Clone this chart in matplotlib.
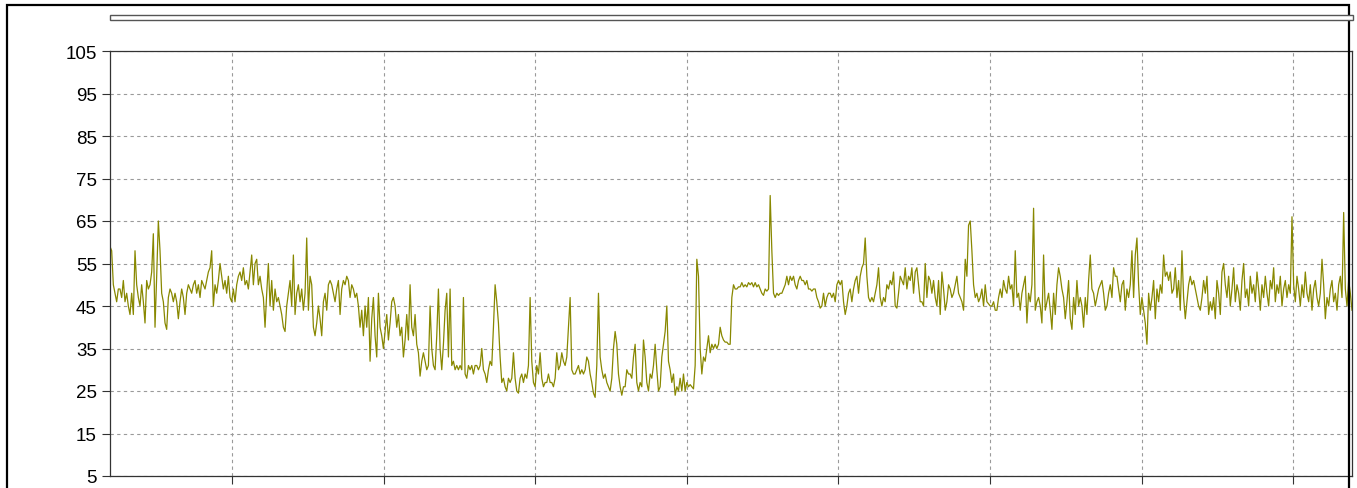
import matplotlib
matplotlib.use("Agg")
import matplotlib.pyplot as plt
from matplotlib.patches import Rectangle
import numpy as np

# ---- data (left to right) ----
seg_01 = [59, 58, 50, 48, 46, 49, 49, 47, 51, 46, 48, 45, 43, 48, 43, 58, 50, 47, 45, 50,
          46, 41, 51, 49, 50, 53, 62, 40, 52, 65, 58, 48, 46, 41, 39.5, 47, 49, 48, 46, 48,
          46, 42, 46, 49, 47, 43, 48, 50, 49, 48, 50, 51, 48, 50, 47, 51, 50, 49, 51, 53,
          54, 58, 45, 50, 48, 51, 55]
seg_02 = [52, 49, 51, 48, 52, 47, 46, 49, 46, 50, 52, 53, 51, 54, 50, 51, 49, 53, 57, 50,
          55, 56, 50, 52, 49, 47, 40, 48, 55, 45, 51, 44, 49, 46, 47, 45, 43, 40, 39, 45,
          48, 51, 45, 57, 43, 48, 50, 46, 49, 44, 48, 61, 44, 52, 50, 40, 38, 41, 45, 42,
          38, 46, 48, 44, 50, 51]
seg_03 = [50, 48, 46, 49, 51, 43, 49, 51, 50, 52, 51, 47, 50, 49, 47, 48, 45, 40, 44, 38,
          45, 40, 47, 32, 42, 47, 38, 33, 48, 40, 38, 35, 39, 43, 37, 41, 46, 47, 45, 40,
          43, 38, 40, 33, 37, 43, 37, 50, 40, 38, 43, 36, 34, 28.5, 32, 34, 32, 30, 31, 45,
          35, 31, 30, 38, 49, 35]
seg_04 = [30, 36, 44, 48, 33, 49, 31, 32, 30, 31, 30, 31, 30, 47, 29, 28, 31, 30, 31, 29,
          31, 31, 30, 31, 35, 30, 29, 27, 30, 32, 31, 40, 50, 46, 41, 33, 27, 28, 26, 25,
          28, 27, 28, 34, 28, 25, 24.5, 28, 29, 27, 29, 28, 31, 47, 32, 27, 26, 31, 29, 34,
          28, 26, 27, 27, 29, 27]
seg_05 = [27, 26, 28, 34, 30, 31, 34, 32, 31, 33, 40, 47, 30, 29, 29, 30, 31, 29, 30, 29,
          30, 33, 32, 29, 27, 24.5, 23.5, 31, 48, 33, 30, 28, 29, 27, 26, 25, 28, 35, 39, 36,
          29, 26, 24, 26, 26, 30, 29, 29, 28, 33, 36, 27, 25, 27, 26, 37, 33, 27, 25, 29,
          28, 31, 36, 30, 25, 26]
seg_06 = [33, 36, 39, 45, 32, 30, 27, 29, 24, 26, 25, 28, 25, 29, 25, 27, 26, 26.5, 26, 25.5,
          31, 56, 52, 35, 29, 33, 32, 35, 38, 34, 36, 35, 36, 35, 36, 40, 38, 37, 36.5, 36.5,
          36, 36, 47, 50, 49, 49, 49.5, 49.5, 50.5, 49.5, 50, 49.5, 50.5, 50, 50.5, 49.5, 50.5, 49.5, 50, 49,
          48, 47.5, 49, 48.5, 49, 71]
seg_07 = [58, 48, 47, 48, 47.5, 48, 48, 49, 50, 52, 50, 52, 51, 52, 50, 49, 51, 52, 51, 51,
          50, 51, 49, 49, 48.5, 49, 49, 47, 46, 44.5, 45, 48, 45, 47, 48, 48, 47, 48, 46, 50,
          51, 50, 51, 46, 43, 45, 48, 49, 46, 49, 51, 52, 48, 52, 54, 55, 61, 52, 47, 46,
          47, 46, 48, 50, 54, 47]
seg_08 = [45, 47, 46, 50, 49, 51, 50, 53, 45, 44.5, 48, 52, 51, 50, 54, 49, 52, 51, 54, 48,
          53, 54, 50, 46, 46, 45, 55, 47, 52, 51, 48, 51, 47, 45, 51, 43, 53, 49, 44, 46,
          50, 49, 47, 48, 50, 52, 48, 47, 46, 44, 56, 52, 64, 65, 58, 50, 47, 48, 46, 47,
          49, 45, 50, 46, 45.5, 45]
seg_09 = [45, 46, 44, 44, 47, 49, 47, 51, 49, 48, 52, 49, 50, 45, 58, 47, 48, 44, 48, 50,
          52, 41, 48, 46, 50, 68, 44, 46, 47, 45, 41, 57, 44, 46, 48, 44, 39.5, 48, 43, 50,
          54, 52, 49, 47, 42, 46, 51, 42, 39.5, 47, 43, 51, 45, 47, 45, 40, 47, 43, 51, 57,
          49, 48, 45, 47, 49, 50]
seg_10 = [51, 48, 44, 45, 48, 50, 47, 54, 52, 52, 49, 46, 50, 51, 44, 49, 47, 50, 58, 47,
          57, 61, 50, 43, 47, 44, 41, 36, 48, 44, 47, 51, 42, 49, 46, 50, 48, 57, 52, 53,
          51, 53, 48, 49, 54, 47, 51, 44, 58, 47, 42, 46, 50, 52, 50, 51, 49, 47, 45, 44,
          47, 51, 48, 52, 43, 46, 44, 47, 42, 51, 48, 43, 53, 55]
seg_11 = [50, 47, 52, 45, 49, 54, 46, 50, 48, 44, 51, 55, 47, 49, 45, 52, 48, 50, 46, 53,
          49, 44, 50, 47, 52, 48, 45, 51, 49, 54, 46, 50, 48, 52, 45, 49, 51, 47, 50, 48,
          66, 50, 46, 52, 49, 45, 50, 47, 53, 48, 46, 50, 44, 49, 51, 47, 45, 48, 56, 50,
          42, 47, 45, 49, 51, 46, 48, 44, 50, 52, 47, 67, 49, 45, 51, 48, 44]

values = (seg_01 + seg_02 + seg_03 + seg_04 + seg_05 + seg_06 +
          seg_07 + seg_08 + seg_09 + seg_10 + seg_11)
y_ticks = [5, 15, 25, 35, 45, 55, 65, 75, 85, 95, 105]

# ---- layout ----
W, H = 1357, 489
fig = plt.figure(figsize=(W / 100, H / 100), dpi=100)
fig.patch.set_facecolor("white")

L, R, T, B = 110, 1352, 52, 477
ax = fig.add_axes([L / W, 1 - B / H, (R - L) / W, (B - T) / H])

x = np.arange(len(values))
ax.plot(x, values, color="#888800", lw=0.9, antialiased=True)

n = len(values) - 1
ax.set_xlim(0, n)
ax.set_ylim(5, 105)
ax.set_yticks(y_ticks)
ax.set_yticklabels([str(v) for v in y_ticks], fontfamily="Liberation Sans", fontsize=13.5)

frac0, step = 122 / (R - L), 151.6 / (R - L)
ax.set_xticks([(frac0 + step * k) * n for k in range(8)])
ax.set_xticklabels([])

ax.tick_params(axis="y", length=6, width=0.8, color="#333333", pad=3.5)
ax.tick_params(axis="x", length=6, width=0.8, color="#333333")
ax.grid(True, color="#9a9a9a", linestyle=(0, (3, 3)), lw=0.8)
ax.set_axisbelow(True)
for s in ax.spines.values():
    s.set_color("#333333")
    s.set_linewidth(0.9)

# outer frame
fig.add_artist(Rectangle((7 / W, -0.2), (1349 - 7) / W, 1.2 - 6 / H,
                         transform=fig.transFigure, fill=False,
                         edgecolor="black", lw=1.6, clip_on=False))
# empty legend box (double line)
fig.add_artist(Rectangle((L / W, 1 - 21 / H), (R + 1 - L) / W, 5 / H,
                         transform=fig.transFigure, facecolor="white",
                         edgecolor="#555555", lw=1.0, clip_on=False))

fig.savefig("out.png", dpi=100)
